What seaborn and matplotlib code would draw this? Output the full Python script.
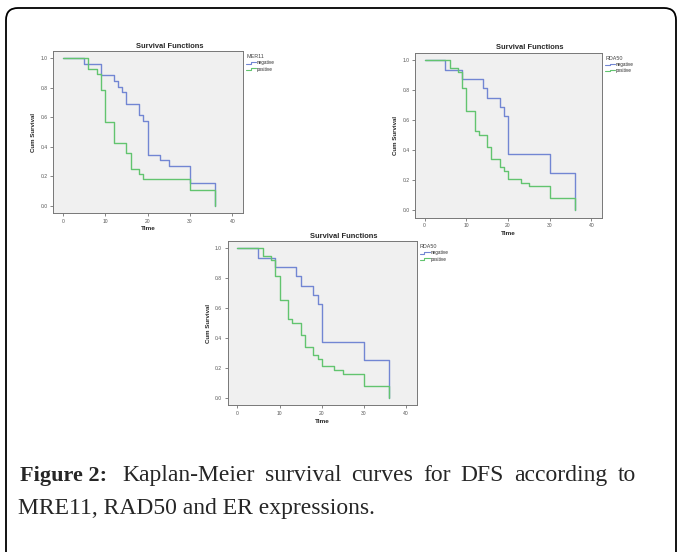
import pandas as pd
import matplotlib.pyplot as plt
import seaborn as sns
from matplotlib.lines import Line2D
from matplotlib.legend_handler import HandlerBase
from matplotlib.patches import FancyBboxPatch

# Kaplan-Meier step values (time of change, survival after it)
mer11_neg_t = [0, 5, 9, 12, 13, 14, 15, 18, 19, 20, 23, 25, 30, 36]
mer11_neg_s = [1.0, 0.962, 0.885, 0.846, 0.808, 0.769, 0.692, 0.615, 0.577, 0.346, 0.308, 0.269, 0.154, 0.0]
mer11_pos_t = [0, 6, 8, 9, 10, 12, 15, 16, 18, 19, 30, 36]
mer11_pos_s = [1.0, 0.929, 0.893, 0.786, 0.571, 0.429, 0.357, 0.25, 0.214, 0.179, 0.107, 0.0]

rda50_neg_t = [0, 5, 9, 14, 15, 18, 19, 20, 30, 36]
rda50_neg_s = [1.0, 0.9375, 0.875, 0.8125, 0.75, 0.6875, 0.625, 0.375, 0.25, 0.0]
rda50_pos_t = [0, 6, 8, 9, 10, 12, 13, 15, 16, 18, 19, 20, 23, 25, 30, 36]
rda50_pos_s = [1.0, 0.947, 0.921, 0.816, 0.658, 0.526, 0.5, 0.421, 0.342, 0.289, 0.263, 0.211, 0.184, 0.158, 0.079, 0.0]

groups = ["negative", "positive"]
x_ticks = [0, 10, 20, 30, 40]
y_ticks = [0.0, 0.2, 0.4, 0.6, 0.8, 1.0]

palette = {"negative": "#7286d3", "positive": "#62c46f"}

sns.set_theme(style="ticks")
plt.rcParams['font.family'] = ['Liberation Sans', 'DejaVu Sans']


def km_frame(neg_t, neg_s, pos_t, pos_s):
    rows = []
    for g, ts, ss in [("negative", neg_t, neg_s), ("positive", pos_t, pos_s)]:
        for t, s in zip(ts, ss):
            rows.append({"Time": t, "Cum Survival": s, "group": g})
    return pd.DataFrame(rows)


class StepHandler(HandlerBase):
    # little step glyph like the SPSS legend
    def create_artists(self, legend, orig_handle, xdescent, ydescent,
                       width, height, fontsize, trans):
        x0 = -xdescent
        y0 = -ydescent + height * 0.25
        y1 = -ydescent + height * 0.7
        xm = x0 + width * 0.45
        ln = Line2D([x0, xm, xm, x0 + width], [y0, y0, y1, y1],
                    color=orig_handle.get_color(), lw=0.8)
        ln.set_transform(trans)
        return [ln]


def km_panel(fig, rect, df, legend_title):
    ax = fig.add_axes(rect)
    ax.set_facecolor("#f0f0f0")
    sns.lineplot(data=df, x="Time", y="Cum Survival", hue="group",
                 palette=palette, estimator=None, sort=False,
                 drawstyle="steps-post", linewidth=1.0, legend=False, ax=ax)
    ax.set_xlim(-2.3, 42.5)
    ax.set_ylim(-0.05, 1.05)
    ax.set_xticks(x_ticks)
    ax.set_yticks(y_ticks)
    ax.set_yticklabels([f"{v:.1f}" for v in y_ticks])
    ax.tick_params(labelsize=3.6, length=2.5, width=0.5, pad=1.5,
                   colors="#555555")
    for sp in ax.spines.values():
        sp.set_visible(True)
        sp.set_color("#777777")
        sp.set_linewidth(0.7)
    ax.set_xlabel("Time", fontsize=4.6, fontweight="bold", labelpad=2)
    ax.set_ylabel("Cum Survival", fontsize=4.4, fontweight="bold", labelpad=3)
    ax.set_title("Survival Functions", fontsize=5.4, fontweight="bold",
                 x=0.615, pad=2.5)
    handles = [Line2D([], [], color=palette[g]) for g in groups]
    leg = ax.legend(handles, groups, title=legend_title, loc="upper left",
                    bbox_to_anchor=(1.0, 1.0), frameon=False,
                    fontsize=3.3, title_fontsize=3.9, handlelength=2.2,
                    handletextpad=0.2, labelspacing=0.25, borderaxespad=0.3,
                    alignment="left",
                    handler_map={Line2D: StepHandler()})
    leg.get_title().set_color("#444444")
    return ax


fig = plt.figure(figsize=(6.78, 5.52), dpi=100)

km_panel(fig, [0.0782, 0.614, 0.280, 0.2935],
         km_frame(mer11_neg_t, mer11_neg_s, mer11_pos_t, mer11_pos_s), "MER11")
km_panel(fig, [0.612, 0.6056, 0.2758, 0.299],
         km_frame(rda50_neg_t, rda50_neg_s, rda50_pos_t, rda50_pos_s), "RDA50")
km_panel(fig, [0.3358, 0.2658, 0.2788, 0.2976],
         km_frame(rda50_neg_t, rda50_neg_s, rda50_pos_t, rda50_pos_s), "RDA50")

# rounded frame around the figure
frame = FancyBboxPatch((0.06, -0.3), 6.70, 5.74,
                       boxstyle="round,pad=0,rounding_size=0.12",
                       transform=fig.dpi_scale_trans, fill=False,
                       edgecolor="black", linewidth=1.3)
fig.patches.append(frame)

# caption, first line justified between x=122 px and x=636 px
serif = ['Liberation Serif', 'DejaVu Serif']
cap_size = 17
fig.text(20 / 678, 0.1377, "Figure 2:", family=serif, fontweight="bold",
         fontsize=16, va="center")
line1 = "Kaplan-Meier survival curves for DFS according to".split()
renderer = fig.canvas.get_renderer()
words = [fig.text(0, 0.1377, w, family=serif, fontsize=cap_size, va="center")
         for w in line1]
widths = [w.get_window_extent(renderer).width for w in words]
left, right = 122, 636
gap = (right - left - sum(widths)) / (len(words) - 1)
x = left
for w, wd in zip(words, widths):
    w.set_x(x / 678)
    x += wd + gap
fig.text(18 / 678, 0.078, "MRE11, RAD50 and ER expressions.",
         family=serif, fontsize=cap_size, va="center")

plt.savefig("out.png", dpi=100)
